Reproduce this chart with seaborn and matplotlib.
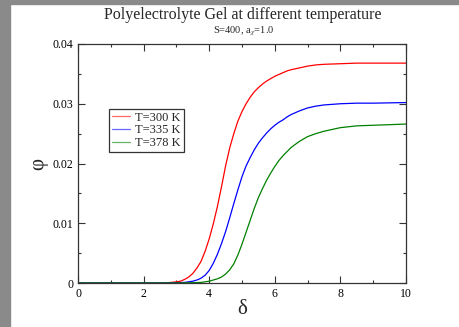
import numpy as np
import pandas as pd
import matplotlib
matplotlib.use("Agg")
import matplotlib.pyplot as plt
from matplotlib.ticker import MultipleLocator
import seaborn as sns

# delta grid shared by all three curves (finer where the curves bend)
delta = [0, 2.5, 2.75, 3.0, 3.125, 3.25, 3.375, 3.5, 3.625, 3.75, 3.875,
         4.0, 4.125, 4.25, 4.375, 4.5, 4.625, 4.75, 4.875, 5.0, 5.125,
         5.25, 5.375, 5.5, 5.625, 5.75, 5.875, 6.0, 6.125, 6.25, 6.375,
         6.5, 6.75, 7.0, 7.25, 7.5, 8.0, 8.5, 9.0, 10.0]

phi_300 = [0, 0, 0.00005, 0.0002, 0.0003, 0.0006, 0.0010, 0.0016, 0.0025,
           0.0036, 0.0053, 0.0074, 0.0099, 0.0128, 0.0161, 0.0196, 0.0226,
           0.0250, 0.0271, 0.0287, 0.0300, 0.0311, 0.0320, 0.0327, 0.0333,
           0.0338, 0.0342, 0.0346, 0.0349, 0.0352, 0.0355, 0.0357, 0.0360,
           0.0363, 0.0365, 0.0366, 0.0367, 0.0368, 0.0368, 0.0368]
phi_335 = [0, 0, 0.00002, 0.00005, 0.00007, 0.0001, 0.0002, 0.0003, 0.0005,
           0.0008, 0.0013, 0.0021, 0.0033, 0.0048, 0.0066, 0.0086, 0.0109,
           0.0133, 0.0156, 0.0178, 0.0196, 0.0210, 0.0223, 0.0234, 0.0243,
           0.0251, 0.0258, 0.0264, 0.0269, 0.0273, 0.0278, 0.0282, 0.0288,
           0.0293, 0.0296, 0.0298, 0.0300, 0.0301, 0.0301, 0.0302]
phi_378 = [0, 0, 0, 0.00001, 0.00002, 0.00003, 0.00004, 0.00005, 0.00007,
           0.0001, 0.0002, 0.0003, 0.0005, 0.0007, 0.0010, 0.0015, 0.0022,
           0.0032, 0.0047, 0.0065, 0.0085, 0.0105, 0.0125, 0.0143, 0.0158,
           0.0172, 0.0184, 0.0195, 0.0205, 0.0213, 0.0220, 0.0227, 0.0237,
           0.0245, 0.0250, 0.0254, 0.0260, 0.0263, 0.0264, 0.0266]

labels = ["T=300 K", "T=335 K", "T=378 K"]
colors = {"T=300 K": "#ff0000", "T=335 K": "#0000ff", "T=378 K": "#008000"}

df = pd.concat([
    pd.DataFrame({"delta": delta, "phi": vals, "T": lab})
    for lab, vals in zip(labels, [phi_300, phi_335, phi_378])
])

sns.set_style("ticks")
plt.rcParams["font.family"] = ["Liberation Serif", "DejaVu Serif"]
plt.rcParams["mathtext.fontset"] = "stix"

fig = plt.figure(figsize=(4.59, 3.27), dpi=100)
fig.patch.set_facecolor("white")
# grey strips at the left and top edge of the screenshot
fig.patches.append(plt.Rectangle((0, 0), 10 / 459, 1, transform=fig.transFigure,
                                 color="#8a8a8a", zorder=0))
fig.patches.append(plt.Rectangle((0, 1 - 4 / 327), 1, 4 / 327, transform=fig.transFigure,
                                 color="#8a8a8a", zorder=0))

ax = fig.add_axes([78 / 459, 44 / 327, 328 / 459, 239 / 327])
sns.lineplot(data=df, x="delta", y="phi", hue="T", palette=colors,
             linewidth=0.9, ax=ax, legend=True)

ax.set_xlim(0, 10)
ax.set_ylim(0, 0.04)
ax.xaxis.set_minor_locator(MultipleLocator(1))
ax.yaxis.set_minor_locator(MultipleLocator(0.005))
ax.set_xticks([0, 2, 4, 6, 8, 10])
ax.set_xticklabels(["0", "2", "4", "6", "8", "10"])
ax.set_yticks([0, 0.01, 0.02, 0.03, 0.04])
ax.set_yticklabels(["0", "0.01", "0.02", "0.03", "0.04"])
ax.tick_params(which="both", direction="in", top=True, right=True,
               labelsize=8.5, width=0.8, colors="#333333", labelcolor="black")
ax.tick_params(which="major", length=5)
ax.tick_params(which="minor", length=2.5)
for s in ax.spines.values():
    s.set_linewidth(0.9)
    s.set_color("#333333")

ax.set_xlabel("δ", fontsize=15, labelpad=0)
ax.set_ylabel("φ", fontsize=15, labelpad=3)

leg = ax.legend(loc="upper left", bbox_to_anchor=(0.093, 0.73), fontsize=9,
                frameon=True, fancybox=False, handlelength=1.5,
                handletextpad=0.4, borderpad=0.25, labelspacing=0.05,
                borderaxespad=0)
leg.get_frame().set_edgecolor("black")
leg.get_frame().set_linewidth(0.9)
for line in leg.get_lines():
    line.set_linewidth(0.9)
    line.set_alpha(0.6)

fig.text(0.528, 1 - 15 / 327, "Polyelectrolyte Gel at different temperature",
         ha="center", va="center", fontsize=11.5)
fig.text(0.53, 1 - 31 / 327, r"S=400, a$_\chi$=1.0",
         ha="center", va="center", fontsize=7.5)

fig.savefig("out.png", dpi=100)
